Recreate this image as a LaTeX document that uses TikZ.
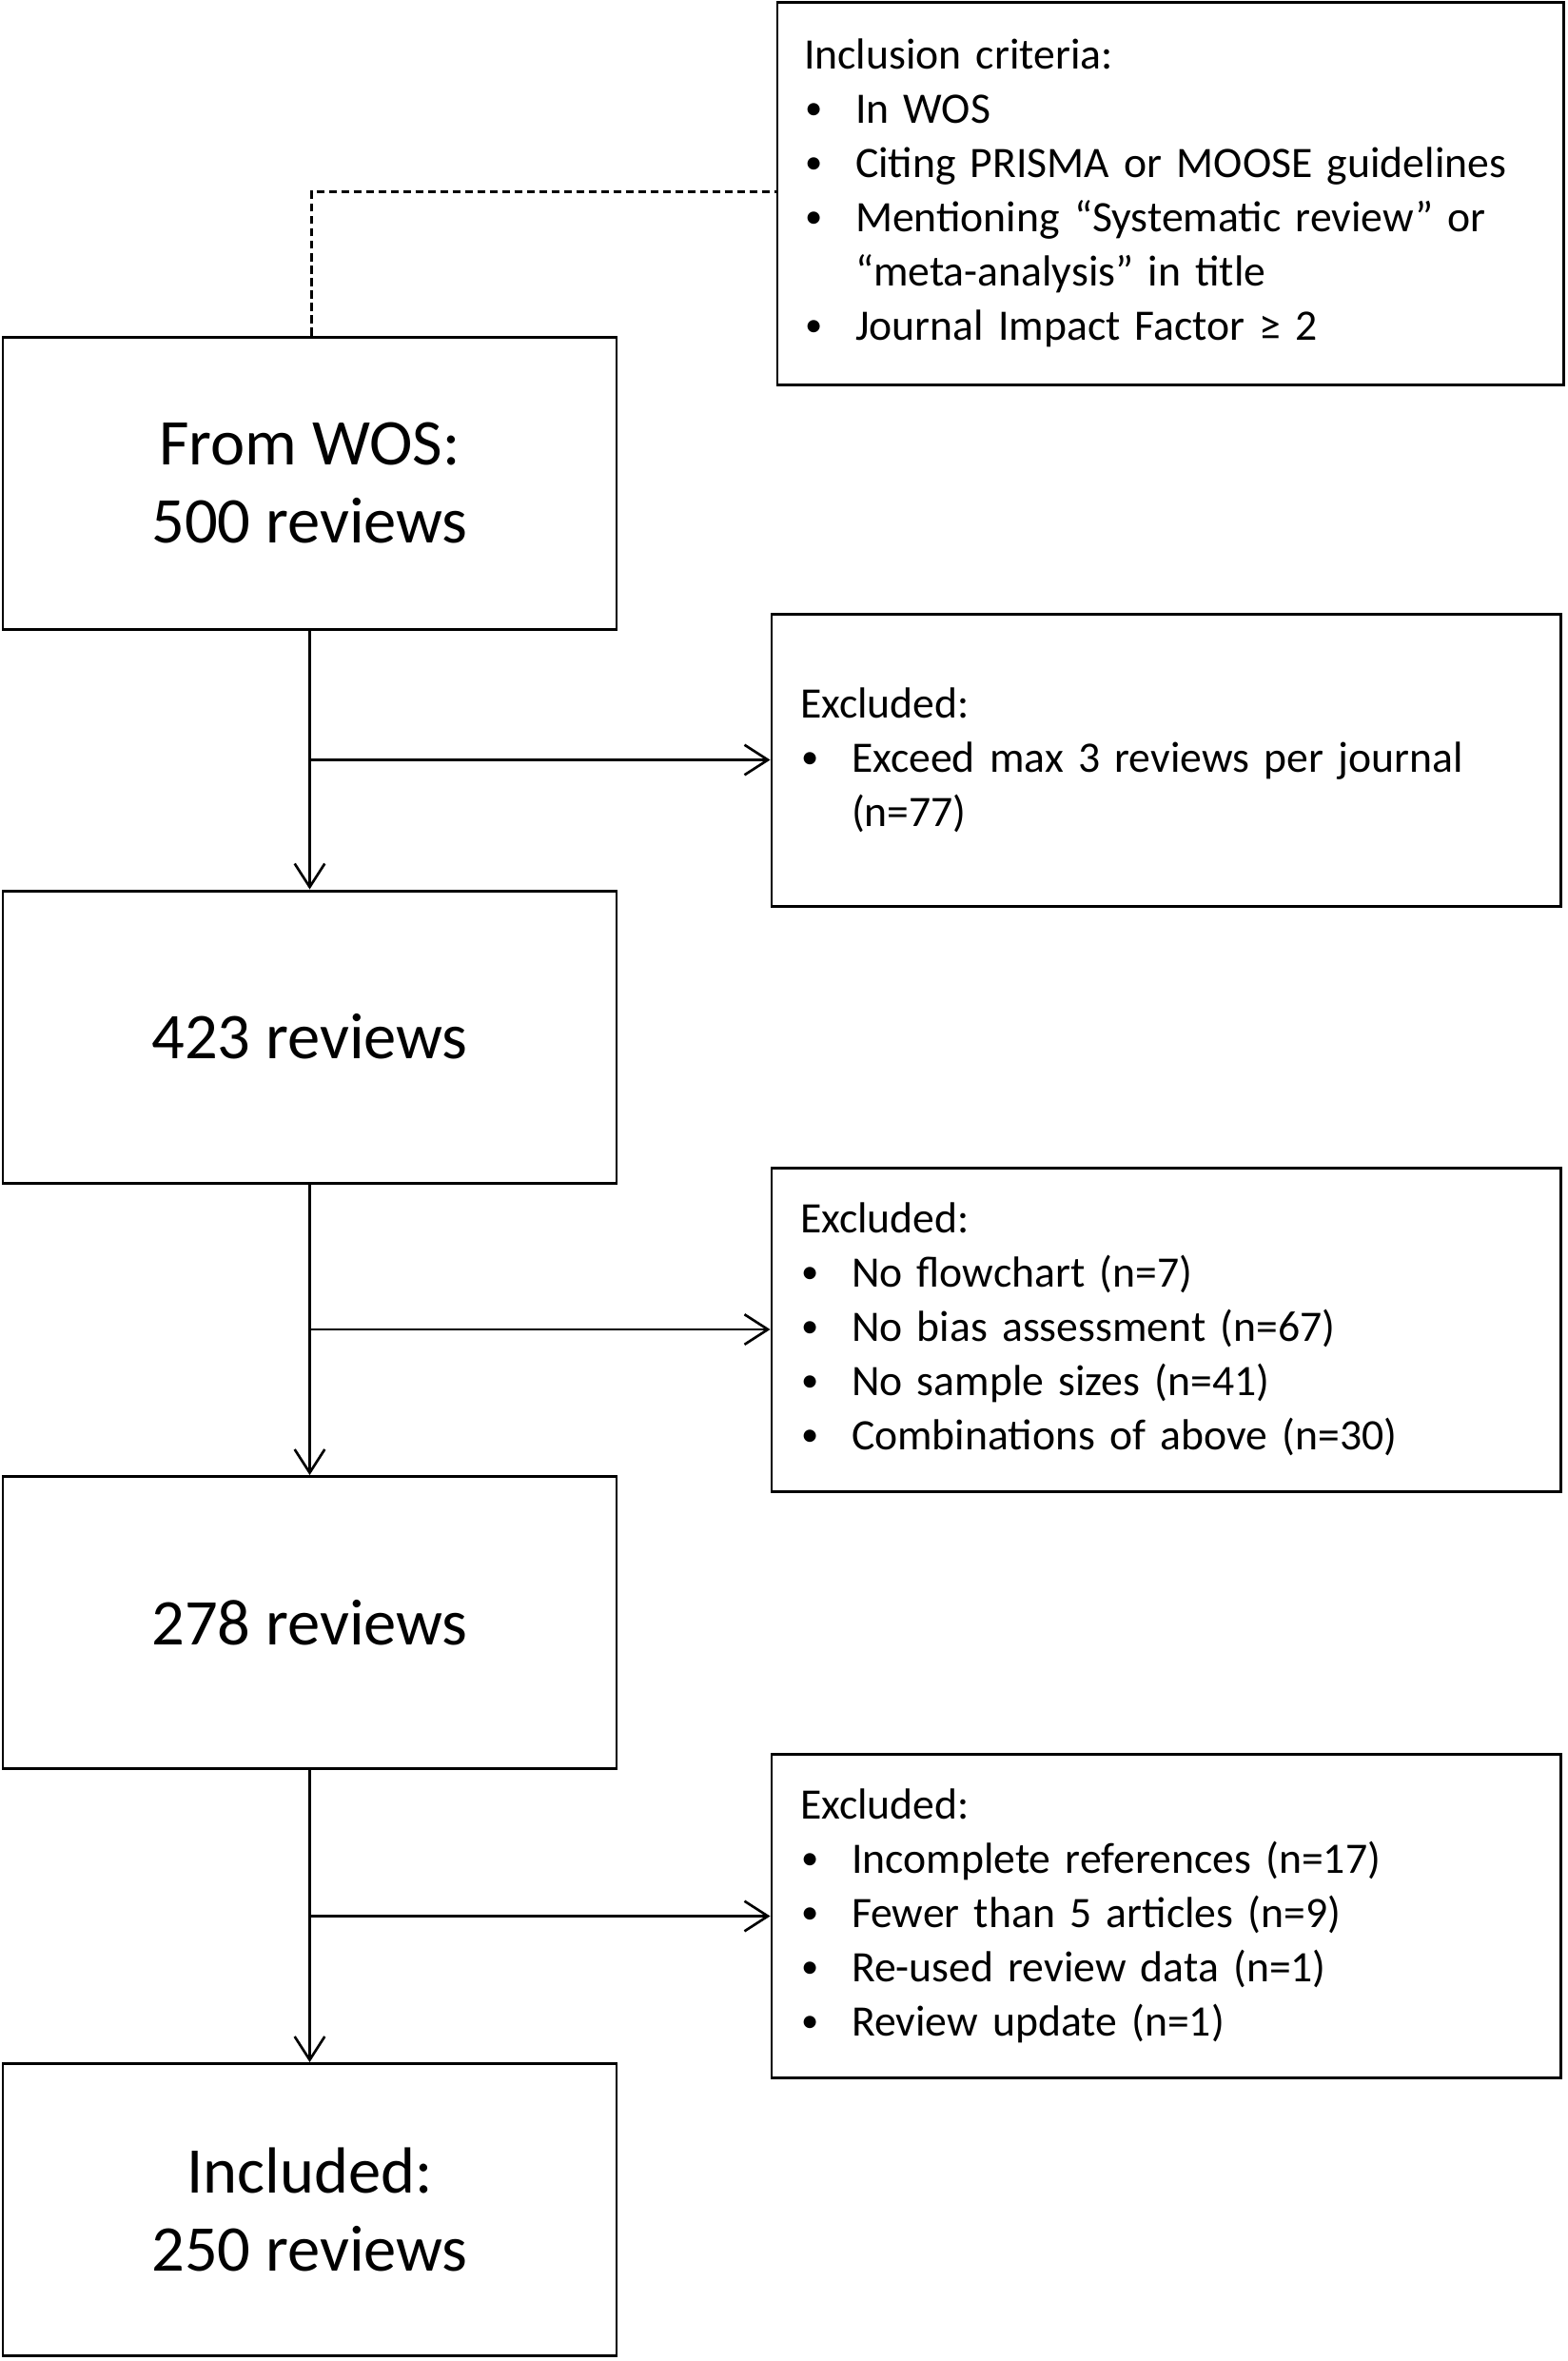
\documentclass[tikz,border=0pt]{standalone}
\usepackage{fontspec}
\setmainfont{Carlito}
\usepackage{tikz}
\usetikzlibrary{positioning}
\usetikzlibrary{calc}
\usetikzlibrary{arrows.meta}
\newcommand{\bl}{\makebox[0.54cm][l]{\hspace{0.01cm}\raisebox{0.18ex}{\scalebox{0.8}{\textbullet}}}}
\newcommand{\ind}{\hspace*{0.54cm}}
\begin{document}
\begin{tikzpicture}[
		stage/.style={draw, line width=0.85pt, minimum width=6.45cm, minimum height=3.07cm, align=center, inner sep=0pt, font=\fontsize{19.5}{23.5}\selectfont},
		crit/.style={draw, line width=0.85pt, inner xsep=0.3cm, inner ysep=0pt, text width=7.69cm, align=left, font=\fontsize{13}{16.2}\selectfont},
		arr/.style={line width=0.75pt, -{Straight Barb[length=7pt,width=9pt]}},
		link/.style={line width=0.6pt, dash pattern=on 2.5pt off 1.2pt}
	]
		\useasboundingbox (0,0) rectangle (16.48,-24.81);
		\node[stage] (wos) at (3.255,-5.075) {From WOS:\\500 reviews};
		\node[stage] (r423) at (3.255,-10.895) {423 reviews};
		\node[stage] (r278) at (3.255,-17.05) {278 reviews};
		\node[stage] (incl) at (3.255,-23.22) {Included:\\250 reviews};
		\node[crit, text width=7.7cm, inner xsep=0.28cm, minimum height=4.02cm] (crit) at (12.30,-2.03) {Inclusion criteria:\\
			\bl In WOS\\
			\bl Citing PRISMA or MOOSE guidelines\\
			\bl Mentioning “Systematic review” or\\
			\ind “meta-analysis” in title\\
			\bl Journal Impact Factor ≥ 2};
		\node[crit, minimum height=3.07cm] (exc1) at (12.255,-7.985) {Excluded:\\
			\bl Exceed max 3 reviews per journal\\
			\ind (n=77)};
		\node[crit, minimum height=3.40cm] (exc2) at (12.255,-13.97) {Excluded:\\
			\bl No flowchart (n=7)\\
			\bl No bias assessment (n=67)\\
			\bl No sample sizes (n=41)\\
			\bl Combinations of above (n=30)};
		\node[crit, minimum height=3.40cm] (exc3) at (12.255,-20.135) {Excluded:\\
			\bl Incomplete references (n=17)\\
			\bl Fewer than 5 articles (n=9)\\
			\bl Re-used review data (n=1)\\
			\bl Review update (n=1)};
		\coordinate (bend) at ($(wos.north)+(0.02,1.51)$);
		\draw[link] ($(wos.north)+(0.02,0)$) -- (bend) -- (bend -| crit.west);
		\draw[arr] (wos) -- (r423);
		\draw[arr] (r423) -- (r278);
		\draw[arr] (r278) -- (incl);
		\coordinate (j1) at (wos.south |- exc1.west);
		\coordinate (j2) at (r423.south |- exc2.west);
		\coordinate (j3) at (r278.south |- exc3.west);
		\draw[arr] (j1) -- (exc1);
		\draw[arr] (j2) -- (exc2);
		\draw[arr] (j3) -- (exc3);
	\end{tikzpicture}
\end{document}
